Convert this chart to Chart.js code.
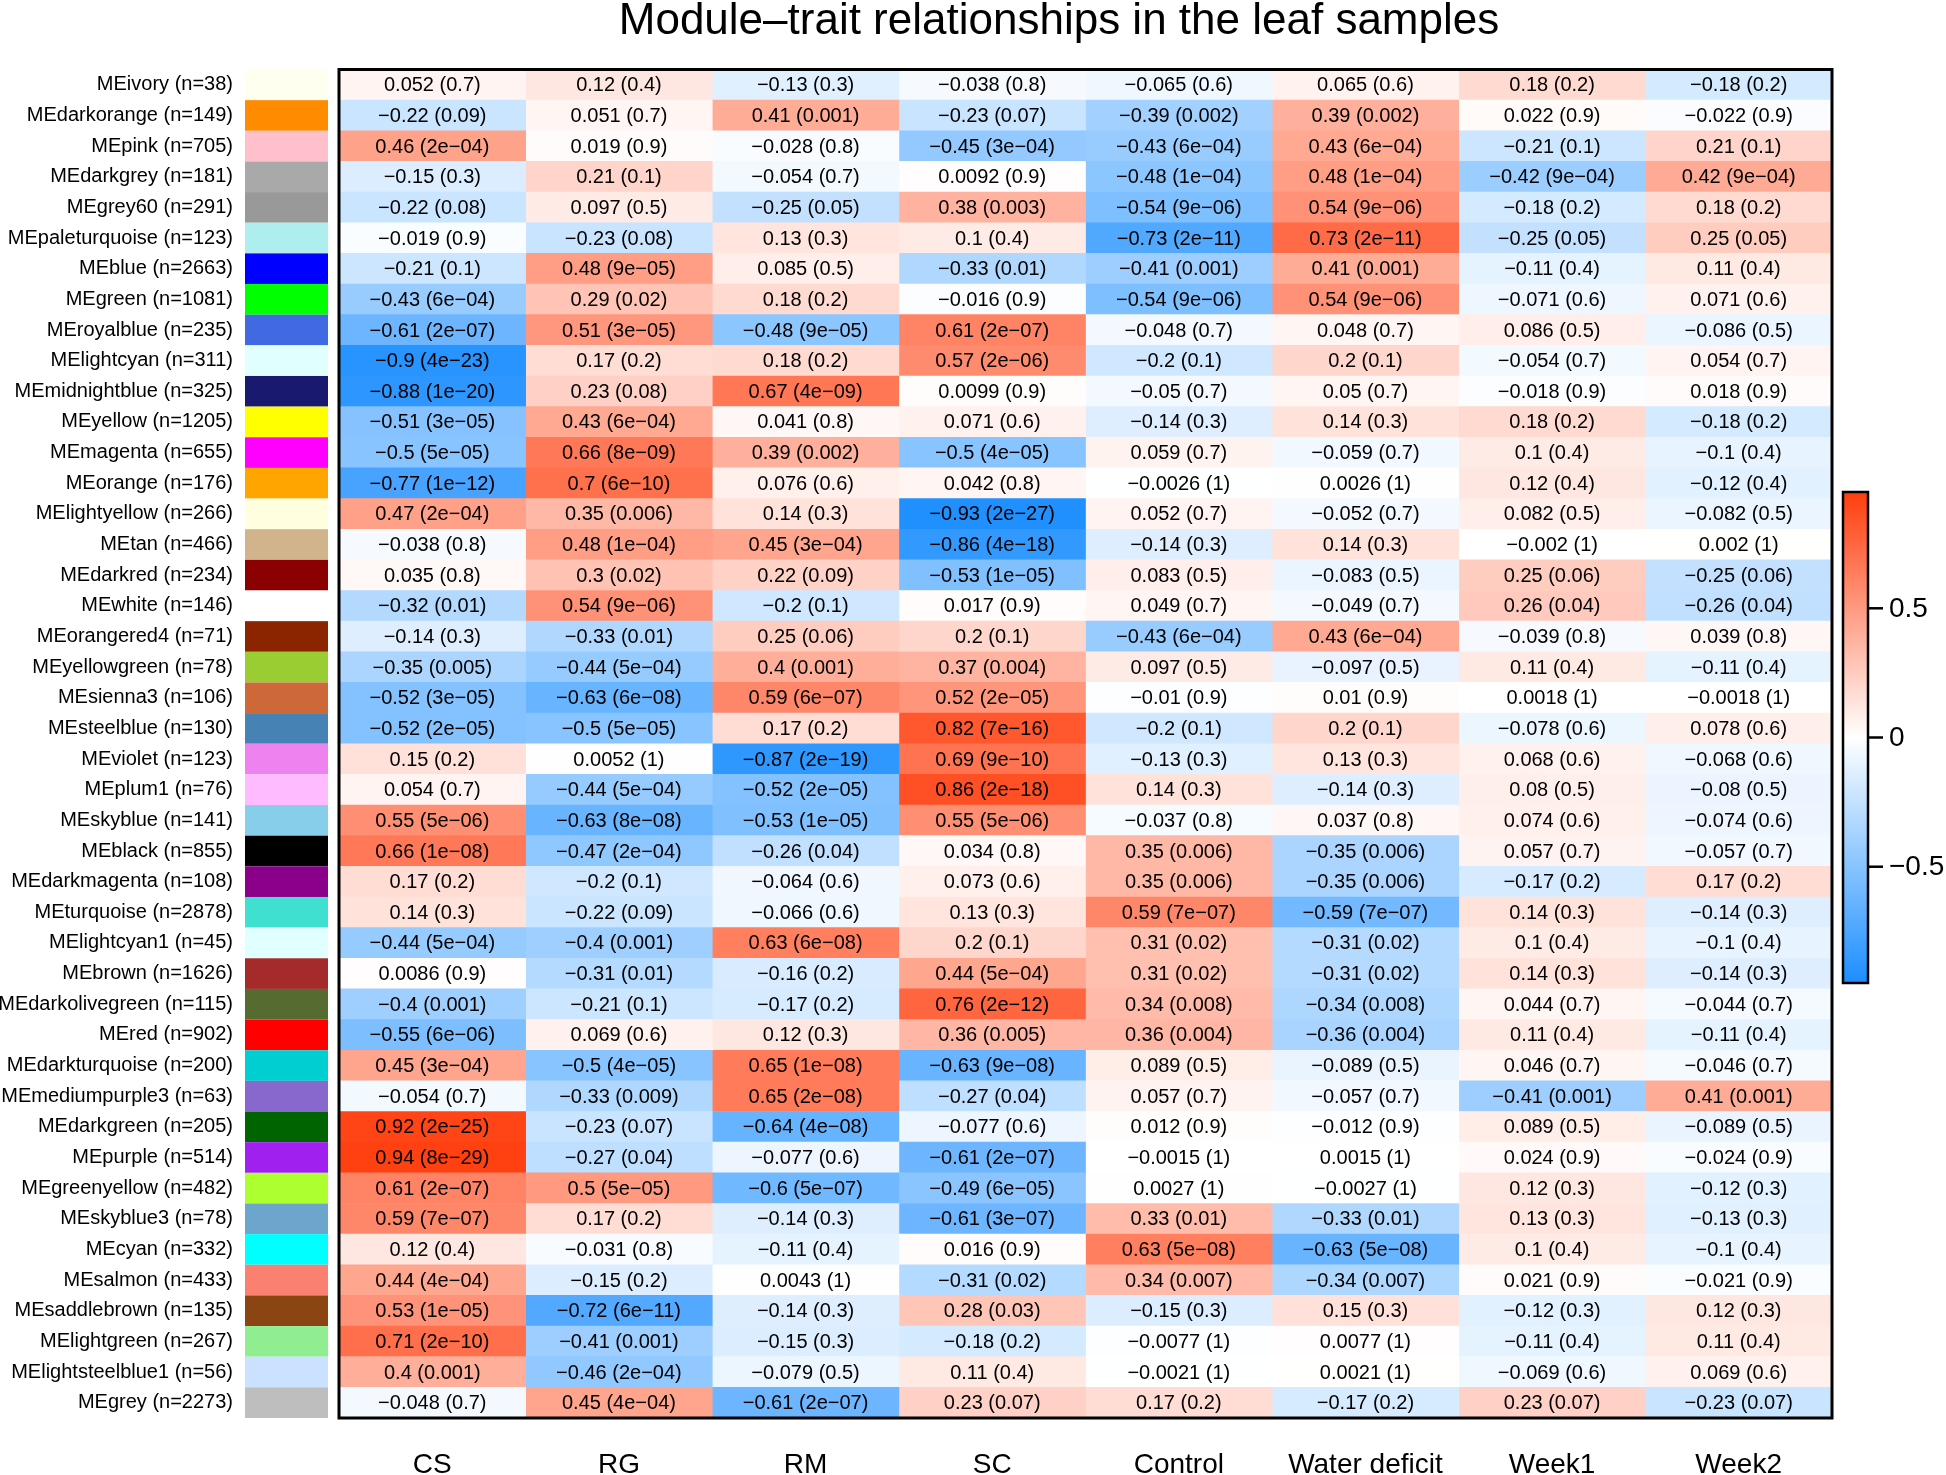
<!DOCTYPE html>
<html>
<head>
<meta charset="utf-8">
<script src="https://cdn.jsdelivr.net/npm/chart.js@4.4.1/dist/chart.umd.min.js"></script>
<style>
  html, body { margin: 0; padding: 0; background: #ffffff; }
  #wrap { width: 1946px; height: 1475px; position: relative; }
  canvas { display: block; }
</style>
</head>
<body>
<div id="wrap"><canvas id="c" width="1946" height="1475"></canvas></div>
<script>
const titleText = "Module\u2013trait relationships in the leaf samples";
const traits = ["CS", "RG", "RM", "SC", "Control", "Water deficit", "Week1", "Week2"];
const modules = ["MEivory (n=38)","MEdarkorange (n=149)","MEpink (n=705)","MEdarkgrey (n=181)","MEgrey60 (n=291)","MEpaleturquoise (n=123)","MEblue (n=2663)","MEgreen (n=1081)","MEroyalblue (n=235)","MElightcyan (n=311)","MEmidnightblue (n=325)","MEyellow (n=1205)","MEmagenta (n=655)","MEorange (n=176)","MElightyellow (n=266)","MEtan (n=466)","MEdarkred (n=234)","MEwhite (n=146)","MEorangered4 (n=71)","MEyellowgreen (n=78)","MEsienna3 (n=106)","MEsteelblue (n=130)","MEviolet (n=123)","MEplum1 (n=76)","MEskyblue (n=141)","MEblack (n=855)","MEdarkmagenta (n=108)","MEturquoise (n=2878)","MElightcyan1 (n=45)","MEbrown (n=1626)","MEdarkolivegreen (n=115)","MEred (n=902)","MEdarkturquoise (n=200)","MEmediumpurple3 (n=63)","MEdarkgreen (n=205)","MEpurple (n=514)","MEgreenyellow (n=482)","MEskyblue3 (n=78)","MEcyan (n=332)","MEsalmon (n=433)","MEsaddlebrown (n=135)","MElightgreen (n=267)","MElightsteelblue1 (n=56)","MEgrey (n=2273)"];
const moduleColors = ["#FFFFF0","#FF8C00","#FFC0CB","#A9A9A9","#999999","#AFEEEE","#0000FF","#00FF00","#4169E1","#E0FFFF","#191970","#FFFF00","#FF00FF","#FFA500","#FFFFE0","#D2B48C","#8B0000","#FFFFFF","#8B2500","#9ACD32","#CD6839","#4682B4","#EE82EE","#FFBBFF","#87CEEB","#000000","#8B008B","#40E0D0","#E0FFFF","#A52A2A","#556B2F","#FF0000","#00CED1","#8968CD","#006400","#A020F0","#ADFF2F","#6CA6CD","#00FFFF","#FA8072","#8B4513","#90EE90","#CAE1FF","#BEBEBE"];

const corCS = [0.052,-0.22,0.46,-0.15,-0.22,-0.019,-0.21,-0.43,-0.61,-0.9,-0.88,-0.51,-0.5,-0.77,0.47,-0.038,0.035,-0.32,-0.14,-0.35,-0.52,-0.52,0.15,0.054,0.55,0.66,0.17,0.14,-0.44,0.0086,-0.4,-0.55,0.45,-0.054,0.92,0.94,0.61,0.59,0.12,0.44,0.53,0.71,0.4,-0.048];
const pCS = ["0.7","0.09","2e-04","0.3","0.08","0.9","0.1","6e-04","2e-07","4e-23","1e-20","3e-05","5e-05","1e-12","2e-04","0.8","0.8","0.01","0.3","0.005","3e-05","2e-05","0.2","0.7","5e-06","1e-08","0.2","0.3","5e-04","0.9","0.001","6e-06","3e-04","0.7","2e-25","8e-29","2e-07","7e-07","0.4","4e-04","1e-05","2e-10","0.001","0.7"];
const corRG = [0.12,0.051,0.019,0.21,0.097,-0.23,0.48,0.29,0.51,0.17,0.23,0.43,0.66,0.7,0.35,0.48,0.3,0.54,-0.33,-0.44,-0.63,-0.5,0.0052,-0.44,-0.63,-0.47,-0.2,-0.22,-0.4,-0.31,-0.21,0.069,-0.5,-0.33,-0.23,-0.27,0.5,0.17,-0.031,-0.15,-0.72,-0.41,-0.46,0.45];
const pRG = ["0.4","0.7","0.9","0.1","0.5","0.08","9e-05","0.02","3e-05","0.2","0.08","6e-04","8e-09","6e-10","0.006","1e-04","0.02","9e-06","0.01","5e-04","6e-08","5e-05","1","5e-04","8e-08","2e-04","0.1","0.09","0.001","0.01","0.1","0.6","4e-05","0.009","0.07","0.04","5e-05","0.2","0.8","0.2","6e-11","0.001","2e-04","4e-04"];
const corRM = [-0.13,0.41,-0.028,-0.054,-0.25,0.13,0.085,0.18,-0.48,0.18,0.67,0.041,0.39,0.076,0.14,0.45,0.22,-0.2,0.25,0.4,0.59,0.17,-0.87,-0.52,-0.53,-0.26,-0.064,-0.066,0.63,-0.16,-0.17,0.12,0.65,0.65,-0.64,-0.077,-0.6,-0.14,-0.11,0.0043,-0.14,-0.15,-0.079,-0.61];
const pRM = ["0.3","0.001","0.8","0.7","0.05","0.3","0.5","0.2","9e-05","0.2","4e-09","0.8","0.002","0.6","0.3","3e-04","0.09","0.1","0.06","0.001","6e-07","0.2","2e-19","2e-05","1e-05","0.04","0.6","0.6","6e-08","0.2","0.2","0.3","1e-08","2e-08","4e-08","0.6","5e-07","0.3","0.4","1","0.3","0.3","0.5","2e-07"];
const corSC = [-0.038,-0.23,-0.45,0.0092,0.38,0.1,-0.33,-0.016,0.61,0.57,0.0099,0.071,-0.5,0.042,-0.93,-0.86,-0.53,0.017,0.2,0.37,0.52,0.82,0.69,0.86,0.55,0.034,0.073,0.13,0.2,0.44,0.76,0.36,-0.63,-0.27,-0.077,-0.61,-0.49,-0.61,0.016,-0.31,0.28,-0.18,0.11,0.23];
const pSC = ["0.8","0.07","3e-04","0.9","0.003","0.4","0.01","0.9","2e-07","2e-06","0.9","0.6","4e-05","0.8","2e-27","4e-18","1e-05","0.9","0.1","0.004","2e-05","7e-16","9e-10","2e-18","5e-06","0.8","0.6","0.3","0.1","5e-04","2e-12","0.005","9e-08","0.04","0.6","2e-07","6e-05","3e-07","0.9","0.02","0.03","0.2","0.4","0.07"];
const corControl = [-0.065,-0.39,-0.43,-0.48,-0.54,-0.73,-0.41,-0.54,-0.048,-0.2,-0.05,-0.14,0.059,-0.0026,0.052,-0.14,0.083,0.049,-0.43,0.097,-0.01,-0.2,-0.13,0.14,-0.037,0.35,0.35,0.59,0.31,0.31,0.34,0.36,0.089,0.057,0.012,-0.0015,0.0027,0.33,0.63,0.34,-0.15,-0.0077,-0.0021,0.17];
const pControl = ["0.6","0.002","6e-04","1e-04","9e-06","2e-11","0.001","9e-06","0.7","0.1","0.7","0.3","0.7","1","0.7","0.3","0.5","0.7","6e-04","0.5","0.9","0.1","0.3","0.3","0.8","0.006","0.006","7e-07","0.02","0.02","0.008","0.004","0.5","0.7","0.9","1","1","0.01","5e-08","0.007","0.3","1","1","0.2"];
const corWater = [0.065,0.39,0.43,0.48,0.54,0.73,0.41,0.54,0.048,0.2,0.05,0.14,-0.059,0.0026,-0.052,0.14,-0.083,-0.049,0.43,-0.097,0.01,0.2,0.13,-0.14,0.037,-0.35,-0.35,-0.59,-0.31,-0.31,-0.34,-0.36,-0.089,-0.057,-0.012,0.0015,-0.0027,-0.33,-0.63,-0.34,0.15,0.0077,0.0021,-0.17];
const pWater = ["0.6","0.002","6e-04","1e-04","9e-06","2e-11","0.001","9e-06","0.7","0.1","0.7","0.3","0.7","1","0.7","0.3","0.5","0.7","6e-04","0.5","0.9","0.1","0.3","0.3","0.8","0.006","0.006","7e-07","0.02","0.02","0.008","0.004","0.5","0.7","0.9","1","1","0.01","5e-08","0.007","0.3","1","1","0.2"];
const corWeek1 = [0.18,0.022,-0.21,-0.42,-0.18,-0.25,-0.11,-0.071,0.086,-0.054,-0.018,0.18,0.1,0.12,0.082,-0.002,0.25,0.26,-0.039,0.11,0.0018,-0.078,0.068,0.08,0.074,0.057,-0.17,0.14,0.1,0.14,0.044,0.11,0.046,-0.41,0.089,0.024,0.12,0.13,0.1,0.021,-0.12,-0.11,-0.069,0.23];
const pWeek1 = ["0.2","0.9","0.1","9e-04","0.2","0.05","0.4","0.6","0.5","0.7","0.9","0.2","0.4","0.4","0.5","1","0.06","0.04","0.8","0.4","1","0.6","0.6","0.5","0.6","0.7","0.2","0.3","0.4","0.3","0.7","0.4","0.7","0.001","0.5","0.9","0.3","0.3","0.4","0.9","0.3","0.4","0.6","0.07"];
const corWeek2 = [-0.18,-0.022,0.21,0.42,0.18,0.25,0.11,0.071,-0.086,0.054,0.018,-0.18,-0.1,-0.12,-0.082,0.002,-0.25,-0.26,0.039,-0.11,-0.0018,0.078,-0.068,-0.08,-0.074,-0.057,0.17,-0.14,-0.1,-0.14,-0.044,-0.11,-0.046,0.41,-0.089,-0.024,-0.12,-0.13,-0.1,-0.021,0.12,0.11,0.069,-0.23];
const pWeek2 = ["0.2","0.9","0.1","9e-04","0.2","0.05","0.4","0.6","0.5","0.7","0.9","0.2","0.4","0.4","0.5","1","0.06","0.04","0.8","0.4","1","0.6","0.6","0.5","0.6","0.7","0.2","0.3","0.4","0.3","0.7","0.4","0.7","0.001","0.5","0.9","0.3","0.3","0.4","0.9","0.3","0.4","0.6","0.07"];
const colorbarTicks = [-0.5, 0, 0.5];

const corByTrait = [corCS, corRG, corRM, corSC, corControl, corWater, corWeek1, corWeek2];
const pByTrait = [pCS, pRG, pRM, pSC, pControl, pWater, pWeek1, pWeek2];

// ---- styling ----
const FONT = "'Liberation Sans', Arial, Helvetica, sans-serif";
const ZMAX = 0.95;
const BLUE = [28, 142, 255];
const RED = [255, 62, 14];
function heatColor(v) {
  let t = Math.max(-1, Math.min(1, v / ZMAX));
  const end = t < 0 ? BLUE : RED;
  const a = Math.abs(t);
  const c = end.map(e => Math.round(255 + (e - 255) * a));
  return `rgb(${c[0]},${c[1]},${c[2]})`;
}
function fmt(s) { return String(s).replace(/-/g, "\u2212"); }

const unitCell = modules.map(() => 1);

const datasets = traits.map((t, j) => ({
  label: t,
  data: unitCell,
  backgroundColor: corByTrait[j].map(heatColor),
  borderWidth: 0,
  borderSkipped: false,
  barPercentage: 1.0,
  categoryPercentage: 1.0,
  stack: "s"
}));

const decorPlugin = {
  id: "decor",
  afterDatasetsDraw(chart) {
    const ctx = chart.ctx;
    ctx.save();
    ctx.font = `20px ${FONT}`;
    ctx.fillStyle = "#000";
    ctx.textAlign = "center";
    ctx.textBaseline = "middle";
    traits.forEach((t, j) => {
      const meta = chart.getDatasetMeta(j);
      meta.data.forEach((el, i) => {
        const cx = (el.x + el.base) / 2;
        ctx.fillText(`${fmt(corByTrait[j][i])} (${fmt(pByTrait[j][i])})`, cx, el.y + 1);
      });
    });
    ctx.restore();
  },
  afterDraw(chart) {
    const ctx = chart.ctx;
    const ca = chart.chartArea;
    const ys = chart.scales.y;
    ctx.save();
    // title
    ctx.font = `44px ${FONT}`;
    ctx.fillStyle = "#000";
    ctx.textAlign = "center";
    ctx.textBaseline = "alphabetic";
    ctx.fillText(titleText, 1059, 34);
    // module colour swatches
    const band = (ca.bottom - ca.top) / modules.length;
    modules.forEach((m, i) => {
      const yc = ys.getPixelForValue(i);
      ctx.fillStyle = moduleColors[i];
      ctx.fillRect(245, yc - band / 2, 83, band);
    });
    // frame
    ctx.strokeStyle = "#000";
    ctx.lineWidth = 3;
    ctx.strokeRect(ca.left, ca.top, ca.right - ca.left, ca.bottom - ca.top);
    // colour bar
    const bx = 1843, bw = 25, cy = 737.5, half = 245.5;
    const pxPerUnit = half / ZMAX;
    const g = ctx.createLinearGradient(0, cy - half, 0, cy + half);
    g.addColorStop(0, `rgb(${RED.join(",")})`);
    g.addColorStop(0.5, "#ffffff");
    g.addColorStop(1, `rgb(${BLUE.join(",")})`);
    ctx.fillStyle = g;
    ctx.fillRect(bx, cy - half, bw, 2 * half);
    ctx.lineWidth = 2.5;
    ctx.strokeRect(bx, cy - half, bw, 2 * half);
    ctx.font = `28px ${FONT}`;
    ctx.textAlign = "left";
    ctx.textBaseline = "middle";
    ctx.fillStyle = "#000";
    colorbarTicks.forEach(v => {
      const y = cy - v * pxPerUnit;
      ctx.beginPath();
      ctx.moveTo(bx + bw, y);
      ctx.lineTo(bx + bw + 15, y);
      ctx.stroke();
      ctx.fillText(fmt(v), bx + bw + 21, y + 1);
    });
    ctx.restore();
  }
};

new Chart(document.getElementById("c"), {
  type: "bar",
  data: { labels: modules, datasets },
  options: {
    indexAxis: "y",
    responsive: false,
    animation: false,
    devicePixelRatio: 1,
    layout: { padding: { left: 0, right: 114, top: 69.5, bottom: 0 } },
    plugins: { legend: { display: false }, tooltip: { enabled: false }, title: { display: false } },
    scales: {
      x: {
        type: "linear",
        stacked: true,
        min: 0,
        max: traits.length,
        grid: { display: false, drawTicks: false },
        border: { display: false },
        afterBuildTicks: s => { s.ticks = traits.map((t, j) => ({ value: j + 0.5 })); },
        ticks: {
          autoSkip: false,
          maxRotation: 0,
          padding: 30,
          color: "#000",
          font: { family: FONT, size: 28 },
          callback: (v, i) => traits[i]
        },
        afterFit: s => { s.height = 57; s.paddingLeft = 0; s.paddingRight = 0; }
      },
      y: {
        stacked: true,
        grid: { display: false, drawTicks: false },
        border: { display: false },
        ticks: {
          autoSkip: false,
          padding: 106,
          color: "#000",
          font: { family: FONT, size: 20 }
        },
        afterFit: s => { s.width = 339; s.paddingTop = 0; s.paddingBottom = 0; }
      }
    }
  },
  plugins: [decorPlugin]
});
</script>
</body>
</html>
